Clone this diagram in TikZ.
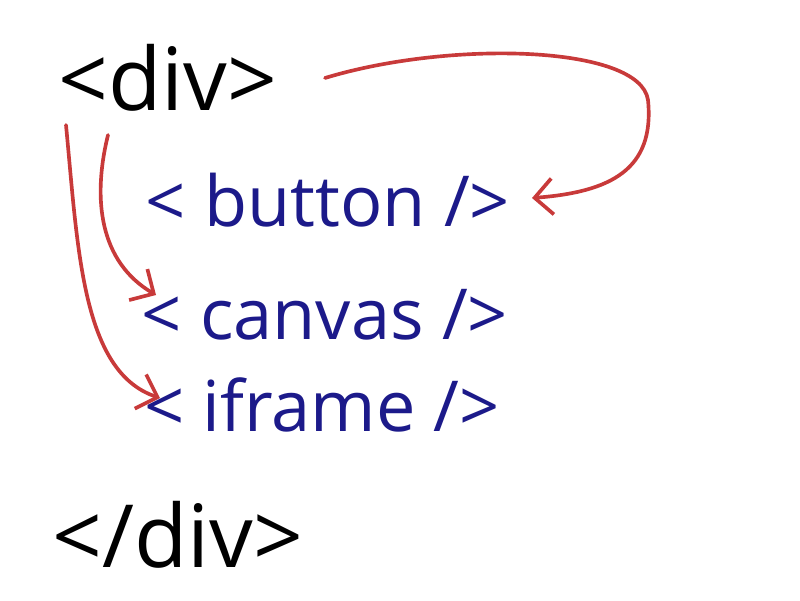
\documentclass[tikz,border=0pt]{standalone}
\usepackage{fontspec}
\setmainfont{Open Sans}
\usetikzlibrary{arrows.meta}
\definecolor{inkblue}{HTML}{1C1A8A}
\definecolor{inkred}{HTML}{C83A3A}
\tikzset{
  tagblack/.style={text=black, inner sep=0pt, font=\fontsize{62}{62}\selectfont},
  tagblue/.style={text=inkblue, inner sep=0pt, font=\fontsize{50}{50}\selectfont},
  redarrow/.style={draw=inkred, line width=2.6pt, line cap=round, line join=round,
    -{Straight Barb[length=4.5mm,width=9mm,line width=2.6pt]}}
}
\begin{document}
\begin{tikzpicture}[x=0.025cm,y=-0.025cm]
\useasboundingbox[fill=white] (0,0) rectangle (800,600);
\node[tagblack] (div) at (168,78) {<div>};
\node[tagblue] (button) at (328,200) {< button />};
\node[tagblue] (canvas) at (325,315) {< canvas />};
\node[tagblue] (iframe) at (322,405) {< iframe />};
\node[tagblack] (enddiv) at (178,535) {</div>};
% connector end points
\coordinate (s1) at (325,78);
\coordinate (e1) at (532,198);
\coordinate (s2) at (108,135);
\coordinate (e2) at (156,295);
\coordinate (s3) at (66,125);
\coordinate (e3) at (160,398);
\draw[redarrow] (s1) .. controls (450,40) and (640,45) .. (648,100)
  .. controls (655,170) and (610,192) .. (e1);
\draw[redarrow] (s2) .. controls (92,200) and (100,262) .. (e2);
\draw[redarrow] (s3) .. controls (78,250) and (82,372) .. (e3);
\end{tikzpicture}
\end{document}
